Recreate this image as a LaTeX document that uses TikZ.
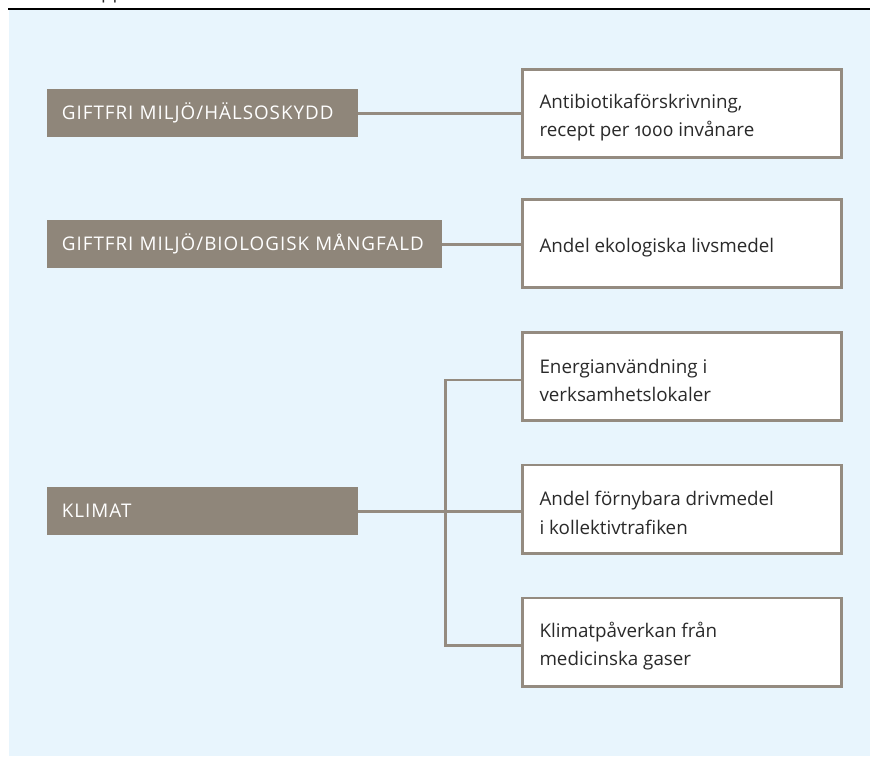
\documentclass[tikz,border=0pt]{standalone}
\usepackage{fontspec}
\setmainfont{Open Sans}[Numbers=OldStyle]
\newfontfamily\capfont{Open Sans}[LetterSpace=5.3]
\usetikzlibrary{calc}
\definecolor{bgblue}{HTML}{E8F5FD}
\definecolor{taupe}{HTML}{8F867A}
\definecolor{edgecol}{HTML}{948B80}
\definecolor{ink}{HTML}{2A2A2A}
\begin{document}
\begin{tikzpicture}[x=1pt,y=-1pt,
  every node/.style={font=\fontsize{18.8}{28.4}\selectfont},
  catbox/.style={fill=taupe, text=white, anchor=north west, minimum height=48pt,
    inner xsep=14.7pt, inner ysep=0pt, align=left,
    font=\capfont\fontsize{18.8}{28.4}\selectfont},
  indbox/.style={draw=edgecol, line width=2.6pt, fill=white, anchor=north west,
    minimum width=319.4pt, minimum height=88.4pt},
  indtext/.style={anchor=west, text=ink, inner sep=0pt, align=left},
  link/.style={draw=edgecol, line width=2.6pt}]
\useasboundingbox (0,0) rectangle (870,756);
\fill[white] (0,0) rectangle (870,756);
\fill[bgblue] (9,9.6) rectangle (870,756);
\draw[black, line width=1.2pt] (8,9) -- (870,9);
\node[anchor=base west, text=ink, inner sep=0pt] (head) at (101,-2) {pp};

% category boxes
\node[catbox, text width=281.6pt] (g1) at (47,89) {GIFTFRI MILJÖ/HÄLSOSKYDD};
\node[catbox, text width=365.6pt] (g2) at (47,220) {GIFTFRI MILJÖ/BIOLOGISK MÅNGFALD};
\node[catbox, text width=281.6pt] (g3) at (47,487) {KLIMAT};

% indicator boxes
\node[indbox] (b1) at (521,68) {};
\node[indbox] (b2) at (521,198) {};
\node[indbox] (b3) at (521,331) {};
\node[indbox] (b4) at (521,463.5) {};
\node[indbox] (b5) at (521,596.5) {};
\node[indtext] (b1t) at ($(b1.west)+(18.3,4)$) {Antibiotikaförskrivning,\\recept per 1000 invånare};
\node[indtext] (b2t) at ($(b2.west)+(18.3,4)$) {Andel ekologiska livsmedel};
\node[indtext] (b3t) at ($(b3.west)+(18.3,4)$) {Energianvändning i\\verksamhetslokaler};
\node[indtext] (b4t) at ($(b4.west)+(18.3,4)$) {Andel förnybara drivmedel\\i kollektivtrafiken};
\node[indtext] (b5t) at ($(b5.west)+(18.3,4)$) {Klimatpåverkan från\\medicinska gaser};

% connectors
\draw[link] (g1.east) -- (g1.east -| b1.west);
\draw[link] (g2.east) -- (g2.east -| b2.west);
\coordinate (spine) at (445.5,0);
\coordinate (t3) at ($(b3.west)+(0,3.5)$);
\coordinate (t5) at ($(b5.west)+(0,3.5)$);
\draw[link] (t3) -- (spine |- t3) -- (spine |- t5) -- (t5);
\draw[link] (g3.east) -- (g3.east -| b4.west);
\end{tikzpicture}
\end{document}
